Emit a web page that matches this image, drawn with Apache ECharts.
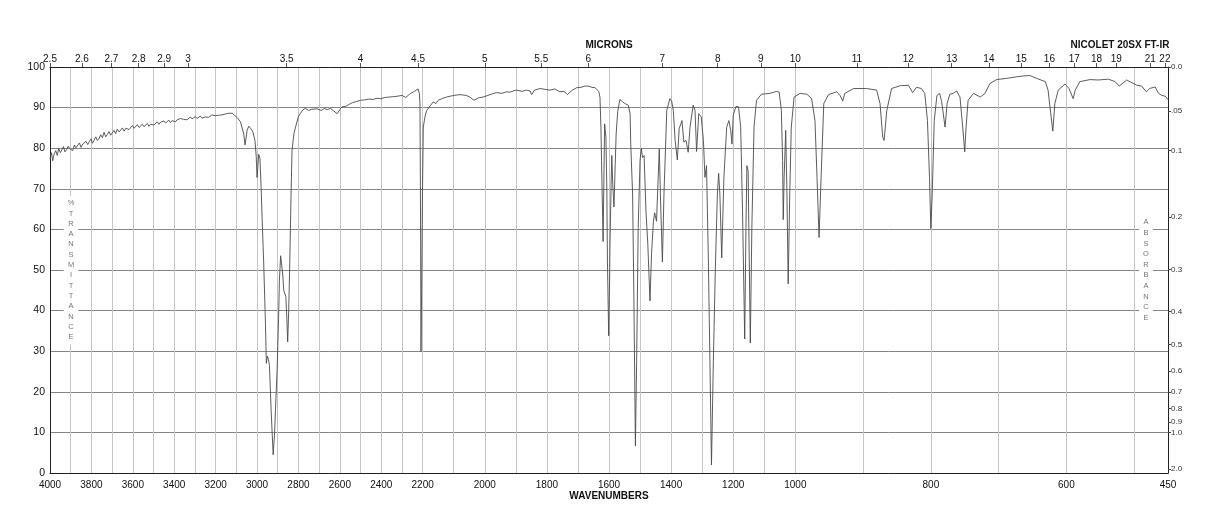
<!DOCTYPE html>
<html><head><meta charset="utf-8">
<script src="https://cdn.jsdelivr.net/npm/echarts@6/dist/echarts.min.js"></script>
<style>html,body{margin:0;padding:0;background:#fff}#c{width:1218px;height:528px}</style>
</head><body><div id="c"></div>
<script>
// ---- spectrum: [wavenumber cm-1, %T] ----
const noisyRegion = [
[4000,77.3],[3993,78.9],[3987,76.9],[3980,78.6],[3972,79.4],[3965,78.2],[3958,79.9],[3950,78.9],[3942,79.2],[3935,80.4],
[3928,79.1],[3920,79.6],[3912,80.5],[3905,79.9],[3898,80.2],[3890,79.4],[3882,80.8],[3875,80.1],[3866,80.5],[3858,81.3],
[3850,80.2],[3842,81.0],[3835,80.6],[3826,81.7],[3818,80.9],[3810,81.6],[3802,82.3],[3795,81.2],[3787,82.0],[3779,82.8],
[3771,81.9],[3763,82.4],[3755,83.3],[3747,82.6],[3739,83.9],[3731,82.8],[3723,83.4],[3715,84.1],[3707,83.2],[3699,83.8],
[3691,84.4],[3683,83.6],[3675,84.7],[3666,84.0],[3658,84.3],[3650,85.0],[3642,84.2],[3634,84.9],[3626,85.3],[3618,84.6],
[3610,85.0],[3602,85.6],[3594,84.9],[3586,85.2],[3578,85.8],[3570,85.1],[3562,85.5],[3554,85.9],[3546,85.3],[3538,85.7],
[3530,86.1],[3522,85.4],[3514,85.9],[3506,86.3],[3498,85.7],[3490,86.0],[3482,86.5],[3474,85.9],[3466,86.4],[3458,86.1],
[3450,86.7],[3442,86.2],[3434,86.6],[3426,86.9],[3418,86.3],[3410,86.8],[3402,87.1],[3394,86.5],[3386,87.0],[3378,86.7],
[3370,87.3],[3362,86.9],[3354,87.1],[3346,87.5],[3338,87.0],[3330,87.4],[3322,87.7],[3314,87.2],[3306,87.5],[3298,87.8],
[3290,87.3],[3282,87.6],[3274,87.9],[3266,87.4],[3258,87.2],[3250,87.7],[3242,88.0],[3234,87.6],[3226,87.9],[3218,88.2],
[3210,87.8],[3202,88.0],[3194,88.3],[3186,88.1],[3178,88.5],[3170,88.2],[3162,88.6],[3154,88.4],[3146,88.8],[3138,88.6],
[3130,88.9],[3120,88.6],[3110,88.2]
];
const chStretchRegion = [
[3095,87.5],[3080,86.5],[3072,85.0],[3064,83.5],[3058,80.8],[3053,82.5],[3048,84.4],[3040,85.4],[3030,84.8],[3020,84.0],
[3010,81.9],[3004,78.0],[3000,72.8],[2996,75.5],[2992,78.5],[2986,77.5],[2980,70.0],[2975,62.0],[2968,52.0],[2960,38.0],
[2955,27.0],[2950,28.8],[2945,28.0],[2940,26.5],[2932,15.5],[2922,4.5],[2915,10.0],[2911,15.5],[2903,25.5],[2896,38.0],
[2892,47.5],[2886,53.5],[2881,53.8],[2876,49.0],[2871,45.0],[2861,43.5],[2856,38.0],[2852,32.3],[2847,40.0],[2842,51.5],
[2836,68.0],[2831,79.4],[2822,83.5],[2814,85.2],[2800,87.8],[2790,88.6],[2778,89.5],[2766,89.8],[2750,89.3],[2735,89.6],
[2726,89.2],[2710,89.7],[2690,89.3],[2675,89.8],[2661,89.5],[2645,89.8],[2630,89.2],[2613,88.5],[2600,89.5],[2590,90.2],
[2572,90.3],[2555,90.8],[2540,91.2],[2520,91.5],[2500,91.8],[2480,91.9],[2460,92.1],[2440,92.0],[2420,92.3],[2403,92.2],
[2380,92.5],[2360,92.6],[2340,92.7],[2322,92.8],[2300,93.0],[2282,92.5],[2270,93.0],[2258,93.5],[2240,94.0],[2222,94.6],
[2216,93.5],[2213,91.0],[2210,60.0],[2208,29.9],[2205,45.0],[2201,68.7],[2198,85.2],[2192,88.0],[2187,89.3],[2175,90.5],
[2166,91.4],[2160,91.8],[2157,91.0],[2150,91.8],[2135,92.3],[2123,92.6],[2100,93.0],[2080,93.2],[2060,93.0],[2048,92.6],
[2035,91.8],[2020,92.4],[2005,92.6],[1990,93.0],[1975,93.4],[1962,93.7],[1945,93.5],[1930,93.9],[1919,93.8],[1905,94.2],
[1897,94.3],[1880,94.0],[1866,94.3],[1854,94.1],[1849,93.2],[1840,94.3],[1822,94.7],[1806,94.5],[1790,94.3],[1775,94.6],
[1758,93.9],[1745,94.0],[1734,93.2],[1720,94.2],[1704,94.9],[1690,95.0],[1678,95.3],[1667,95.3],[1655,95.0],[1645,94.9],
[1640,94.7],[1633,94.0]
];
const fingerprintRegion = [
[1629,92.5],[1626,85.0],[1624,77.0],[1621,65.0],[1619,57.0],[1616,75.0],[1614,86.0],[1610,82.7],[1607,70.0],[1605,52.0],
[1601,33.8],[1598,48.0],[1597,55.5],[1593,72.0],[1591,78.2],[1588,71.1],[1584,65.5],[1580,76.0],[1577,83.5],[1572,89.0],
[1565,92.0],[1556,91.4],[1549,91.0],[1538,90.6],[1532,88.5],[1530,81.0],[1524,68.7],[1520,44.0],[1515,6.7],[1511,27.5],
[1506,60.5],[1500,77.0],[1496,80.0],[1492,77.7],[1487,78.2],[1481,64.5],[1475,56.3],[1468,42.4],[1463,54.0],[1457,62.0],
[1453,64.1],[1447,62.0],[1442,72.0],[1438,79.8],[1434,67.0],[1428,52.0],[1423,68.7],[1418,80.0],[1414,89.3],[1404,92.2],
[1398,91.5],[1393,89.3],[1387,81.9],[1380,77.1],[1374,84.8],[1365,86.8],[1359,81.5],[1352,81.9],[1345,79.0],[1339,85.2],
[1329,90.6],[1323,89.3],[1318,79.2],[1311,88.5],[1303,87.7],[1296,81.9],[1291,72.8],[1286,75.7],[1280,52.2],[1275,27.6],
[1270,2.0],[1264,27.6],[1257,52.2],[1251,68.7],[1247,73.8],[1243,68.7],[1237,53.0],[1230,72.8],[1221,85.2],[1214,86.8],
[1208,84.4],[1204,81.0],[1200,88.1],[1191,90.3],[1183,90.2],[1176,85.2],[1170,64.5],[1163,33.0],[1159,60.4],[1156,75.7],
[1152,74.4],[1145,32.0],[1140,60.4],[1133,85.2],[1125,91.8],[1109,93.3],[1095,93.4],[1082,93.5],[1060,94.0],[1052,93.8],
[1045,89.3],[1041,77.0],[1039,62.4],[1036,72.8],[1031,84.4],[1027,68.7],[1023,46.6],[1018,68.7],[1013,85.2],[1004,92.6]
];
const lowRegion = [
[993,93.5],[983,93.3],[976,92.2],[971,86.8],[968,72.8],[965,58.0],[962,72.8],[958,91.0],[951,93.2],[939,93.9],
[934,93.0],[930,91.6],[927,93.5],[914,94.7],[895,94.7],[880,94.3],[875,91.0],[871,82.7],[869,81.9],[865,89.3],
[858,94.7],[845,95.4],[833,95.5],[827,93.7],[821,95.0],[814,94.7],[809,93.5],[805,86.8],[802,72.8],[800,60.2],
[798,68.7],[795,86.8],[791,93.0],[787,93.5],[784,91.4],[779,85.2],[776,91.0],[772,93.3],[767,93.5],[762,94.1],
[757,92.6],[753,85.2],[750,79.1],[748,85.2],[745,91.8],[737,93.5],[727,92.6],[720,93.5],[713,95.9],[703,96.9],
[688,97.2],[673,97.6],[663,97.8],[654,97.9],[644,97.2],[631,96.4],[627,94.3],[623,88.5],[620,84.2],[617,91.0],
[612,94.3],[602,95.8],[596,94.7],[590,92.2],[587,94.3],[580,96.4],[565,96.9],[553,96.8],[538,97.0],[528,96.4],
[522,95.3],[511,96.8],[496,95.5],[489,95.3],[482,93.9],[477,94.7],[469,95.1],[464,93.5],[459,93.0],[454,92.8],
[450,92.0]
];

const wnLabels = [4000,3800,3600,3400,3200,3000,2800,2600,2400,2200,2000,1800,1600,1400,1200,1000,800,600,450];
const wnGrid = [3900,3800,3700,3600,3500,3400,3300,3200,3100,3000,2900,2800,2700,2600,2500,2400,2300,2200,2100,2000,1900,1800,1700,1600,1500,1400,1300,1200,1100,1000,900,800,700,600,500];
const micronLabels = [2.5,2.6,2.7,2.8,2.9,3,3.5,4,4.5,5,5.5,6,7,8,9,10,11,12,13,14,15,16,17,18,19,21,22];
const absLabels = ['0.0','.05','0.1','0.2','0.3','0.4','0.5','0.6','0.7','0.8','0.9','1.0','2.0'];
const absValues = [0,0.05,0.1,0.2,0.3,0.4,0.5,0.6,0.7,0.8,0.9,1.0,2.0];

// piecewise wavenumber scale (4000-2200, 2200-1000, 1000-450 each take one third of the width)
function f(w){
  if (w >= 2200) return (4000 - w) / 1800;
  if (w >= 1000) return 1 + (2200 - w) / 1200;
  return 2 + (1000 - w) / 550;
}
function lookup(vals, texts){
  return function(v){
    let best = 0, bd = Infinity;
    for (let i = 0; i < vals.length; i++){ const d = Math.abs(vals[i] - v); if (d < bd){ bd = d; best = i; } }
    return texts[best];
  };
}
const FONT = 'Liberation Sans, Arial, sans-serif';
const wnLabelPos = wnLabels.map(f);
const wnGridPos = wnGrid.map(f);
const micronPos = micronLabels.map(m => f(10000 / m));
const absPos = absValues.map(a => 100 * Math.pow(10, -a));
const spectrum = noisyRegion.concat(chStretchRegion, fingerprintRegion, lowRegion);
const data = spectrum.map(p => [f(p[0]), p[1]]);

const chart = echarts.init(document.getElementById('c'), null, {renderer: 'canvas'});
chart.setOption({
  animation: false,
  backgroundColor: '#fff',
  textStyle: {fontFamily: FONT},
  grid: {left: 50, right: 50, top: 67, bottom: 55, containLabel: false, outerBoundsMode: 'none'},
  xAxis: [
    {
      type: 'value', position: 'bottom', min: 0, max: 3, gridIndex: 0,
      axisLine: {show: true, onZero: false, lineStyle: {color: '#222', width: 1}},
      axisTick: {show: false, customValues: wnGridPos},
      axisLabel: {customValues: wnLabelPos, formatter: lookup(wnLabelPos, wnLabels.map(String)),
        color: '#111', fontSize: 10, margin: 7, fontFamily: FONT},
      splitLine: {show: true, lineStyle: {color: '#c4c4c4', width: 1}}
    },
    {
      type: 'value', position: 'top', min: 0, max: 3, gridIndex: 0,
      axisLine: {show: true, onZero: false, lineStyle: {color: '#222', width: 1}},
      axisTick: {show: true, length: 4, customValues: micronPos, lineStyle: {color: '#555'}},
      axisLabel: {customValues: micronPos, formatter: lookup(micronPos, micronLabels.map(String)),
        color: '#111', fontSize: 10, margin: 3, fontFamily: FONT},
      splitLine: {show: false}
    }
  ],
  yAxis: [
    {
      type: 'value', position: 'left', min: 0, max: 100, interval: 10,
      axisLine: {show: true, onZero: false, lineStyle: {color: '#222', width: 1}},
      axisTick: {show: false},
      axisLabel: {color: '#111', fontSize: 10.5, margin: 5, fontFamily: FONT},
      splitLine: {show: true, lineStyle: {color: '#858585', width: 1}}
    },
    {
      type: 'value', position: 'right', min: 0, max: 100,
      axisLine: {show: true, onZero: false, lineStyle: {color: '#222', width: 1}},
      axisTick: {show: true, length: 3, customValues: absPos, lineStyle: {color: '#444'}},
      axisLabel: {customValues: absPos, formatter: lookup(absPos, absLabels),
        color: '#333', fontSize: 8, margin: 3, fontFamily: FONT},
      splitLine: {show: false}
    }
  ],
  series: [{
    type: 'line', xAxisIndex: 0, yAxisIndex: 0, data: data,
    showSymbol: false, symbol: 'none', smooth: false,
    lineStyle: {color: '#4a4a4a', width: 0.9}, z: 5
  }],
  graphic: [
    {type: 'text', x: 609, y: 45, z: 100, style: {text: 'MICRONS', fontFamily: FONT, fontSize: 10, fontWeight: 'bold', fill: '#111', align: 'center', verticalAlign: 'middle'}},
    {type: 'text', x: 1120, y: 45, z: 100, style: {text: 'NICOLET 20SX FT-IR', fontFamily: FONT, fontSize: 10, fontWeight: 'bold', fill: '#111', align: 'center', verticalAlign: 'middle'}},
    {type: 'text', x: 609, y: 496, z: 100, style: {text: 'WAVENUMBERS', fontFamily: FONT, fontSize: 10, fontWeight: 'bold', fill: '#111', align: 'center', verticalAlign: 'middle'}},
    {type: 'text', x: 71, y: 196, z: 100, style: {text: '%\nT\nR\nA\nN\nS\nM\nI\nT\nT\nA\nN\nC\nE', fontFamily: FONT, fontSize: 7.5, lineHeight: 10.3, fill: '#777', align: 'center', verticalAlign: 'top', backgroundColor: '#fff', padding: [2, 4, 2, 4]}},
    {type: 'text', x: 1146, y: 215, z: 100, style: {text: 'A\nB\nS\nO\nR\nB\nA\nN\nC\nE', fontFamily: FONT, fontSize: 7.5, lineHeight: 10.6, fill: '#777', align: 'center', verticalAlign: 'top', backgroundColor: '#fff', padding: [2, 4, 2, 4]}}
  ]
});
</script>
</body></html>
